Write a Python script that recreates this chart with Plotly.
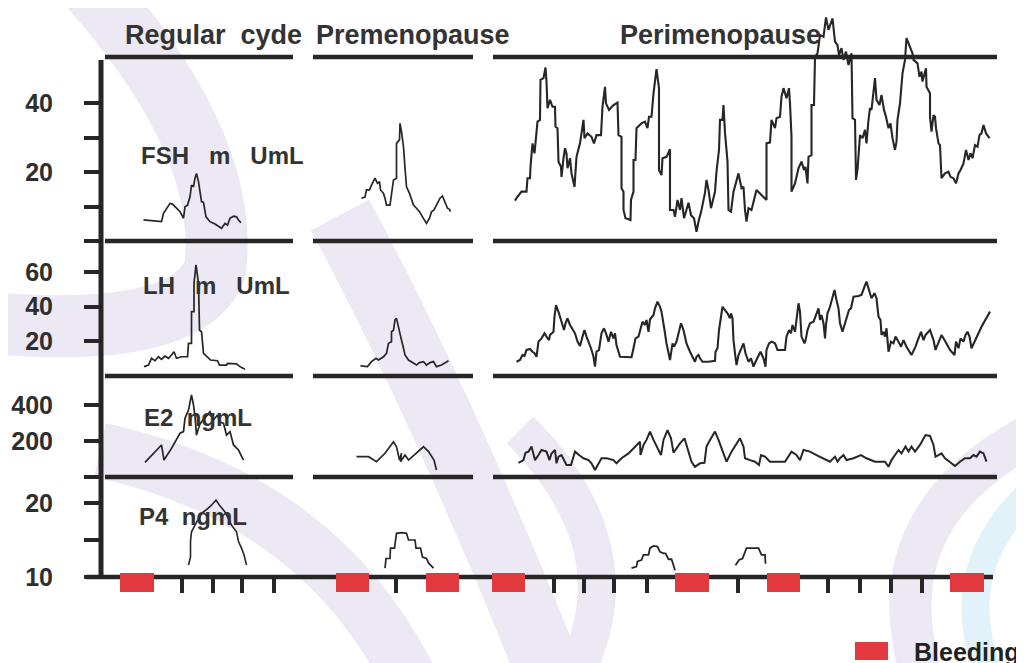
import plotly.graph_objects as go

# ---------------- data (x = day index, y = hormone level) ----------------
# FSH (mU/mL)
fsh_reg_day = [8.5, 12.1, 12.5, 13.0, 13.8, 14.3, 15.1, 15.8, 16.5, 16.8, 17.3, 17.8, 18.1, 18.5, 18.8, 19.1,
               19.5, 19.8, 20.1, 20.5, 21.0, 21.8, 22.8, 24.1, 24.8, 25.3, 25.8, 26.5, 27.1, 27.5, 28.0]
fsh_reg = [6.1, 5.6, 8.0, 9.0, 10.9, 10.7, 9.5, 8.5, 6.6, 9.9, 10.4, 12.8, 16.2, 15.7, 18.2, 19.6,
           17.2, 14.8, 11.4, 11.2, 7.0, 5.6, 4.9, 3.7, 5.1, 4.6, 6.6, 7.2, 7.0, 6.1, 5.3]
fsh_pre_day = [52.1, 52.8, 53.1, 53.7, 54.1, 54.8, 55.3, 55.7, 55.9, 56.5, 56.8, 57.1, 57.8, 58.5, 59.1, 59.1,
               59.7, 59.8, 60.1, 60.5, 60.8, 61.1, 61.7, 62.1, 62.5, 63.1, 63.7, 64.3, 65.1, 65.7, 66.1,
               66.6, 67.1, 67.8, 68.3, 68.8, 69.3, 69.7, 69.9]
fsh_pre = [12.4, 12.7, 14.8, 14.8, 16.2, 18.2, 16.7, 17.2, 14.8, 13.8, 12.4, 10.4, 10.4, 17.7, 18.2, 28.3,
           29.3, 34.1, 31.7, 27.3, 21.1, 15.7, 13.8, 11.9, 10.4, 9.5, 8.5, 7.0, 5.1, 6.6, 8.5,
           9.0, 10.4, 12.4, 13.0, 11.4, 9.5, 9.2, 8.5]
fsh_peri_day = [82.8, 83.1, 84.1, 85.1, 85.3, 85.8, 85.9, 86.3, 86.7, 87.3, 87.8, 87.9, 88.5, 88.9, 89.1, 89.3,
                89.8, 90.3, 90.8, 90.9, 91.3, 91.5, 92.0, 92.1, 92.5, 92.8, 93.1, 93.3, 93.8, 94.1, 94.7,
                94.9, 95.1, 95.8, 96.1, 96.5, 96.7, 97.3, 98.1, 98.6, 99.1, 100.0, 100.3, 100.8, 101.0,
                101.6, 102.5, 103.3, 103.5, 104.1, 104.1, 104.5, 104.5, 104.9, 105.9, 106.0, 106.5, 106.5,
                106.9, 107.1, 108.1, 108.8, 109.3, 109.6, 110.1, 110.5, 111.1, 111.6, 111.6, 112.1, 112.3,
                113.1, 113.8, 113.8, 114.5, 114.8, 115.3, 115.8, 116.1, 116.6, 117.5, 118.0, 118.6, 119.1,
                119.5, 120.1, 120.8, 121.1, 121.5, 122.0, 122.8, 123.1, 123.6, 123.8, 124.3, 124.5, 124.8,
                125.3, 125.5, 126.0, 126.5, 126.9, 127.5, 128.1, 128.5, 128.8, 129.1, 129.5, 130.1, 131.1,
                132.1, 133.1, 133.1, 133.8, 134.1, 134.8, 135.1, 135.8, 136.1, 136.5, 137.1, 137.6, 137.8,
                138.1, 138.1, 138.8, 139.5, 140.1, 140.6, 140.9, 141.3, 141.5, 142.1, 142.1, 142.6, 142.8,
                143.3, 143.5, 143.8, 144.5, 145.0, 145.5, 145.9, 146.3, 146.8, 147.3, 147.6, 148.1, 148.5,
                149.0, 149.5, 150.1, 150.3, 150.8, 151.0, 151.3, 151.8, 152.3, 152.8, 153.1, 153.5, 153.8,
                154.1, 154.5, 154.8, 155.1, 155.7, 156.1, 156.6, 157.0, 157.5, 157.9, 158.3, 158.8, 159.1,
                159.3, 159.8, 160.3, 160.8, 161.1, 161.8, 162.3, 162.5, 163.3, 163.7, 164.1, 164.3, 165.0,
                165.1, 165.8, 165.8, 166.1, 166.5, 166.8, 167.0, 167.5, 167.8, 167.9, 168.1, 168.8, 169.5,
                169.9, 170.5, 171.0, 171.5, 171.9, 172.5, 173.0, 173.5, 173.9, 174.3, 174.8, 175.3, 175.7,
                176.1, 176.5, 177.0, 177.7]
fsh_peri = [11.7, 12.4, 14.3, 14.3, 18.2, 18.2, 21.5, 28.3, 25.4, 34.6, 35.1, 46.7, 47.2, 50.3, 46.2, 38.5,
            40.9, 38.9, 38.9, 33.1, 32.7, 23.0, 21.5, 18.6, 24.0, 26.9, 25.4, 21.1, 24.0, 19.6, 15.7,
            19.6, 24.4, 28.3, 30.7, 35.1, 29.8, 31.2, 30.2, 28.3, 30.7, 30.7, 38.9, 44.7, 39.9,
            38.0, 39.4, 40.1, 30.7, 30.2, 15.3, 14.3, 9.0, 6.6, 6.1, 11.9, 14.3, 23.5,
            23.5, 32.7, 34.1, 34.6, 32.7, 36.0, 36.0, 42.8, 49.8, 44.3, 20.6, 19.1, 24.0,
            24.4, 26.6, 9.0, 9.0, 7.0, 11.9, 9.0, 12.4, 6.6, 11.1, 7.5, 6.6, 2.7,
            5.6, 9.0, 14.0, 17.7, 14.8, 9.5, 14.3, 20.1, 26.4, 35.1, 35.1, 39.4, 31.4,
            23.0, 9.0, 8.5, 14.3, 16.2, 19.6, 15.3, 15.7, 9.0, 5.6, 9.5, 9.0, 14.8,
            13.3, 11.9, 28.3, 28.6, 35.1, 32.7, 35.6, 36.0, 41.8, 44.3, 41.4, 44.3, 39.9,
            30.2, 14.3, 16.7, 21.1, 23.0, 20.6, 21.5, 16.7, 24.4, 24.9, 39.4, 39.4, 53.4,
            54.4, 57.3, 59.7, 59.2, 64.8, 61.2, 63.1, 64.5, 57.8, 56.8, 53.9, 55.9, 52.5,
            54.9, 51.0, 54.4, 35.6, 35.1, 17.7, 20.6, 30.7, 29.8, 32.2, 28.3, 35.1, 38.5,
            38.0, 42.8, 47.2, 40.9, 39.4, 42.3, 38.0, 36.0, 32.7, 34.1, 29.8, 26.4, 28.8,
            35.1, 39.9, 48.6, 52.5, 58.8, 55.9, 54.4, 52.5, 51.5, 47.6, 49.1, 46.2, 50.1,
            44.7, 42.8, 36.0, 31.7, 36.5, 36.0, 32.7, 28.3, 27.8, 21.5, 18.2, 19.6, 20.1,
            18.6, 18.2, 16.7, 19.6, 20.6, 22.5, 26.4, 23.5, 25.4, 24.0, 27.8, 27.3, 30.7,
            31.2, 33.6, 31.2, 29.8]

# LH (mU/mL)
lh_reg_day = [8.6, 9.5, 10.1, 10.8, 11.5, 12.1, 12.8, 13.5, 14.1, 14.6, 15.1, 16.1, 17.3, 17.5, 18.1, 18.1,
              18.6, 18.6, 19.0, 19.5, 19.7, 20.1, 20.5, 21.3, 21.9, 23.3, 23.7, 25.1, 25.3, 27.1, 27.8, 28.8]
lh_reg = [5.4, 6.3, 10.2, 8.8, 11.1, 9.6, 11.5, 10.2, 12.1, 14.0, 10.2, 11.1, 11.1, 18.8, 18.8, 37.1,
          37.1, 53.4, 64.0, 53.4, 26.5, 25.5, 13.1, 11.1, 9.2, 8.8, 6.3, 6.3, 7.3, 7.0, 5.4, 3.9]
lh_pre_day = [51.9, 53.3, 54.1, 55.0, 55.5, 56.5, 57.1, 57.5, 58.1, 58.1, 58.5, 58.8, 59.1, 59.3, 59.7, 60.1,
              60.5, 60.8, 61.5, 62.5, 63.1, 63.7, 64.5, 65.1, 65.8, 66.5, 67.1, 68.1, 69.0, 69.5]
lh_pre = [5.8, 5.4, 8.3, 10.2, 9.2, 11.1, 13.1, 18.8, 19.8, 25.5, 26.5, 32.3, 33.2, 30.4, 24.6, 20.7,
          16.0, 12.1, 9.2, 7.3, 6.3, 7.7, 8.3, 6.3, 7.7, 8.3, 5.4, 6.3, 7.7, 8.8]
lh_peri_day = [83.1, 83.8, 84.3, 84.7, 85.1, 85.8, 86.3, 86.7, 87.1, 87.5, 88.1, 88.7, 89.1, 89.6, 89.8, 90.5,
               90.7, 91.0, 91.6, 92.1, 92.6, 92.9, 93.3, 93.8, 94.5, 94.8, 95.3, 95.8, 96.3, 96.7, 97.1,
               97.5, 98.0, 98.5, 98.8, 99.1, 99.6, 100.1, 100.6, 101.0, 101.5, 102.0, 102.5, 102.8, 103.1,
               103.8, 105.1, 106.1, 106.5, 106.9, 107.5, 107.9, 108.3, 108.8, 109.1, 109.5, 109.8, 110.5,
               110.8, 111.3, 111.8, 112.1, 112.3, 112.7, 113.1, 113.5, 113.8, 114.3, 114.6, 115.1, 115.6,
               116.0, 116.5, 116.8, 117.1, 117.8, 118.5, 118.8, 119.1, 119.5, 119.8, 120.3, 121.5, 122.8,
               122.9, 123.3, 123.6, 124.0, 124.3, 124.8, 125.3, 125.8, 126.0, 126.3, 126.5, 126.8, 127.1,
               127.5, 128.0, 128.5, 128.9, 129.5, 130.0, 130.5, 130.9, 131.5, 131.9, 132.5, 132.9, 133.1,
               133.6, 134.1, 134.8, 135.3, 136.8, 137.1, 137.6, 138.0, 138.3, 138.8, 139.1, 139.5, 139.8,
               140.1, 140.7, 141.0, 141.3, 141.8, 142.5, 142.9, 143.5, 143.8, 144.1, 144.5, 144.8, 145.0,
               145.3, 145.8, 146.3, 146.7, 147.1, 147.5, 147.8, 148.3, 148.7, 149.1, 149.6, 150.0, 150.5,
               151.5, 152.1, 152.7, 153.1, 153.6, 154.1, 154.7, 155.1, 155.5, 155.9, 156.1, 156.5, 156.8,
               157.1, 157.5, 158.0, 158.5, 158.9, 159.5, 160.0, 160.5, 161.1, 162.1, 162.9, 163.5, 164.0,
               164.5, 164.9, 165.8, 166.5, 166.9, 167.6, 168.1, 168.9, 169.8, 170.7, 171.0, 171.5, 171.9,
               172.5, 172.9, 173.3, 173.7, 174.1, 174.8, 176.1, 177.8]
lh_peri = [8.2, 9.2, 12.1, 11.5, 15.0, 15.6, 14.0, 13.1, 11.1, 19.8, 21.7, 24.6, 22.7, 20.7, 23.6, 25.5,
           34.2, 40.9, 36.1, 31.3, 26.5, 30.4, 33.2, 29.4, 26.5, 24.6, 19.8, 17.3, 22.7, 26.5, 22.7,
           19.8, 16.0, 11.1, 5.4, 14.0, 15.0, 24.6, 27.5, 24.6, 19.8, 25.5, 21.7, 24.6, 17.9,
           11.1, 10.8, 10.8, 16.0, 21.7, 22.7, 26.5, 31.3, 29.4, 32.3, 25.5, 32.7, 35.2,
           39.0, 42.8, 39.9, 37.1, 34.2, 26.5, 18.8, 12.1, 9.2, 18.8, 16.9, 19.8, 25.5,
           30.4, 26.5, 22.7, 18.8, 14.0, 10.2, 8.2, 11.1, 12.1, 10.2, 8.2, 8.2, 8.8,
           14.0, 16.0, 26.5, 34.2, 39.9, 38.0, 36.1, 33.2, 36.1, 33.2, 20.7, 13.1, 6.3,
           12.1, 16.0, 18.8, 13.1, 8.2, 10.2, 5.4, 8.2, 12.1, 14.0, 10.2, 5.4, 15.0,
           18.8, 19.8, 18.8, 15.0, 15.0, 22.7, 26.5, 24.6, 29.4, 25.5, 31.3, 41.9, 37.1,
           22.7, 18.8, 21.7, 26.5, 30.4, 31.3, 34.2, 39.0, 32.3, 35.2, 30.4, 21.7, 29.4,
           36.1, 39.9, 44.8, 49.6, 43.8, 39.0, 30.4, 25.5, 29.4, 33.2, 38.0, 39.0, 45.7,
           46.1, 46.7, 51.5, 54.4, 49.6, 44.8, 47.7, 44.8, 34.2, 32.3, 23.6, 25.5, 22.7,
           27.5, 14.0, 19.8, 18.8, 22.7, 19.8, 16.9, 20.7, 16.9, 12.1, 16.9, 21.7, 25.5,
           20.7, 23.6, 26.5, 20.7, 15.0, 19.8, 23.6, 19.8, 15.0, 12.1, 19.8, 16.0, 21.7,
           19.8, 23.6, 25.5, 22.7, 16.0, 20.7, 28.4, 37.1]

# E2 (pg/mL)
e2_reg_day = [8.8, 12.1, 12.6, 14.1, 15.8, 16.5, 16.8, 17.5, 18.1, 18.5, 18.8, 19.1, 19.7, 20.1, 21.0, 21.8,
              22.5, 23.3, 23.7, 24.5, 25.1, 25.8, 26.5, 27.5, 28.5]
e2_reg = [81, 178, 94, 159, 243, 252, 326, 372, 456, 400, 335, 233, 289, 307, 335, 363,
          317, 344, 307, 298, 233, 252, 178, 150, 94]
e2_pre_day = [51.1, 53.5, 55.1, 56.8, 58.5, 59.1, 59.7, 60.1, 59.9, 60.8, 61.5, 63.0, 64.5, 65.5, 66.1, 66.6, 67.1]
e2_pre = [113, 113, 85, 132, 196, 168, 94, 132, 85, 122, 94, 132, 168, 141, 113, 94, 39]
e2_peri_day = [83.5, 84.5, 84.9, 85.5, 86.1, 86.8, 87.5, 88.1, 89.1, 89.7, 90.1, 90.8, 91.1, 91.5, 92.1, 93.1,
               94.0, 94.8, 95.6, 96.5, 97.5, 98.1, 98.8, 99.5, 100.1, 101.1, 102.5, 103.1, 104.1, 105.5,
               106.8, 107.8, 107.9, 108.5, 109.1, 109.8, 110.5, 111.1, 112.0, 112.5, 113.3, 114.0, 114.5,
               115.1, 115.8, 116.7, 117.1, 117.5, 118.1, 118.8, 119.8, 120.7, 121.1, 121.8, 122.8, 123.5,
               124.1, 125.1, 126.1, 126.9, 127.8, 128.5, 128.8, 129.8, 130.8, 131.6, 132.0, 132.8, 133.8,
               136.8, 138.1, 139.1, 139.8, 140.5, 141.8, 143.1, 144.5, 145.8, 146.8, 147.3, 147.8, 148.5,
               149.1, 150.5, 152.0, 153.1, 154.8, 156.8, 157.5, 158.1, 158.8, 159.5, 160.1, 160.9, 161.5,
               162.1, 162.8, 163.8, 164.9, 165.8, 166.5, 166.9, 167.5, 168.1, 168.8, 169.8, 170.8, 171.8,
               172.8, 173.8, 174.5, 175.1, 175.8, 176.5, 177.1]
e2_peri = [79, 94, 135, 141, 169, 94, 122, 150, 141, 94, 131, 150, 76, 113, 122, 67,
           67, 141, 122, 104, 94, 76, 39, 76, 104, 104, 94, 76, 104, 131,
           169, 196, 122, 178, 206, 252, 206, 169, 122, 206, 261, 215, 135,
           159, 187, 215, 178, 141, 85, 57, 76, 79, 169, 206, 252, 206,
           159, 85, 141, 178, 215, 169, 104, 94, 85, 67, 122, 113, 85,
           85, 141, 122, 94, 150, 141, 122, 104, 85, 113, 85, 104, 122,
           94, 104, 122, 104, 85, 85, 57, 94, 122, 150, 131, 169, 141,
           169, 141, 178, 233, 228, 178, 113, 122, 131, 104, 85, 61, 85,
           104, 104, 122, 113, 141, 131, 85]

# P4 (ng/mL)
p4_reg_day = [17.5, 17.9, 17.9, 18.1, 18.8, 19.5, 20.1, 21.1, 22.1, 23.0, 23.7, 24.8, 25.5, 26.1, 27.1, 27.5,
              28.1, 28.6, 29.1]
p4_reg = [11.6, 12.7, 14.8, 16.1, 17.0, 17.9, 18.6, 19.1, 19.7, 20.4, 19.7, 18.8, 17.7, 17.0, 16.1, 14.8,
          13.9, 13.0, 11.6]
p4_pre_day = [56.8, 57.0, 57.8, 57.9, 58.7, 59.1, 60.1, 61.1, 61.5, 62.8, 63.0, 63.9, 64.3, 65.1, 65.5, 66.5]
p4_pre = [11.2, 12.5, 12.5, 13.9, 13.9, 15.9, 16.0, 15.9, 15.0, 15.0, 13.9, 13.9, 12.7, 12.5, 11.9, 11.2]
p4_peri1_day = [106.1, 107.1, 107.3, 108.1, 108.5, 109.5, 109.8, 110.5, 111.3, 111.8, 112.5, 112.9, 113.5,
                114.1, 114.5, 114.8]
p4_peri1 = [11.2, 11.4, 12.1, 12.3, 13.0, 13.0, 13.9, 14.2, 14.1, 13.4, 13.2, 13.2, 12.4, 12.4, 11.6, 10.9]
p4_peri2_day = [126.9, 127.6, 128.3, 128.8, 129.1, 131.5, 131.8, 132.1, 132.8, 132.9]
p4_peri2 = [11.6, 12.3, 12.5, 13.4, 13.9, 13.9, 13.4, 13.0, 13.0, 11.8]

# bleeding episodes (day of mid-point) and sampling ticks on the time axis
bleed_mid = [7.2, 50.3, 68.3, 81.45, 118.2, 136.5, 173.2]
bleed_len = 6.7
time_ticks = [16.2, 22.4, 28.2, 34.6, 59.0, 90.6, 96.6, 102.6, 109.2, 127.4, 145.4, 151.8, 158.0, 164.2]

phase_labels = ["Regular\u00a0\u00a0cyde", "Premenopause", "Perimenopause"]
panel_labels = ["FSH\u00a0\u00a0\u00a0m\u00a0\u00a0\u00a0UmL", "LH\u00a0\u00a0\u00a0m\u00a0\u00a0\u00a0UmL",
                "E2\u00a0\u00a0ngmL", "P4\u00a0\u00a0ngmL"]

# ---------------- figure ----------------
# the page body adds an 8px offset; geometry below is given in on-screen pixels
OFF = 8
W, H = 1024, 663
SL, SR, ST, SB = 101, 1000, 10, 600          # on-screen plot-area box
L, T = SL - OFF, ST - OFF
R, B = W - (SR - OFF), H - (SB - OFF)
PW, PH = SR - SL, SB - ST


def fx(px):
    return (px - SL) / PW


def fy(py):
    return (SB - py) / PH


ink = "#262626"
rule = "#262626"
fig = go.Figure()


def add_line(x, y, axis, w):
    fig.add_trace(go.Scatter(x=x, y=y, mode="lines", yaxis=axis, line=dict(color=ink, width=w),
                             showlegend=False, hoverinfo="skip"))


add_line(fsh_reg_day, fsh_reg, "y", 1.7)
add_line(fsh_pre_day, fsh_pre, "y", 1.7)
add_line(fsh_peri_day, fsh_peri, "y", 2.1)
add_line(lh_reg_day, lh_reg, "y2", 1.7)
add_line(lh_pre_day, lh_pre, "y2", 1.7)
add_line(lh_peri_day, lh_peri, "y2", 2.1)
add_line(e2_reg_day, e2_reg, "y3", 1.7)
add_line(e2_pre_day, e2_pre, "y3", 1.7)
add_line(e2_peri_day, e2_peri, "y3", 2.0)
add_line(p4_reg_day, p4_reg, "y4", 1.6)
add_line(p4_pre_day, p4_pre, "y4", 1.7)
add_line(p4_peri1_day, p4_peri1, "y4", 1.8)
add_line(p4_peri2_day, p4_peri2, "y4", 1.8)

fig.add_trace(go.Bar(x=bleed_mid, y=[0.7] * len(bleed_mid), base=0.3, width=bleed_len, yaxis="y5",
                     marker=dict(color="#e2393e", line=dict(width=0)), showlegend=False, hoverinfo="skip"))

# panel geometry (on-screen pixel rows of the separating rules)
row_top, row_fsh, row_lh, row_e2, row_p4 = 57, 241, 376, 477, 577
tickfont = dict(family="Liberation Sans, Arial, sans-serif", size=25, color="#2e2e2e", weight="bold")
yax_common = dict(showgrid=False, zeroline=False, showline=False, ticks="outside", ticklen=16, tickwidth=4,
                  tickcolor=rule, tickfont=tickfont, anchor="x", ticklabelstandoff=26, fixedrange=True,
                  automargin=False)

fig.update_layout(
    width=W, height=H, margin=dict(l=L, r=R, t=T, b=B, autoexpand=False),
    paper_bgcolor="white", plot_bgcolor="rgba(0,0,0,0)",
    bargap=0, showlegend=False,
    xaxis=dict(range=[0, PW / 5.0], domain=[0, 1], anchor="y4", showgrid=False, zeroline=False,
               showline=False, ticks="outside", tickvals=time_ticks, ticklen=15, tickwidth=4,
               tickcolor=rule, showticklabels=False, automargin=False, fixedrange=True),
    yaxis=dict(domain=[fy(row_fsh), 1], range=[0, (row_fsh - ST) / 3.45],
               tickvals=[0, 10, 20, 30, 40], ticktext=["", "", "20", "", "40"], **yax_common),
    yaxis2=dict(domain=[fy(row_lh), fy(row_fsh)], range=[0, (row_lh - row_fsh) / 1.735],
                tickvals=[20, 40, 60], ticktext=["20", "40", "60"], **yax_common),
    yaxis3=dict(domain=[fy(row_e2), fy(row_lh)], range=[0, (row_e2 - row_lh) / 0.18],
                tickvals=[0, 200, 400], ticktext=["", "200", "400"], **yax_common),
    yaxis4=dict(domain=[fy(row_p4), fy(row_e2)], range=[10, 10 + (row_p4 - row_e2) / 7.4],
                tickvals=[10, 15, 20], ticktext=["10", "", "20"], **yax_common),
    yaxis5=dict(domain=[0, fy(573)], range=[0, 1], visible=False, fixedrange=True, anchor="x"),
)

shapes = []


# faint background watermark (decorative swooshes, on-screen px control points)
def swoosh(pts, width, color):
    d = "M {:.4f},{:.4f}".format(fx(pts[0][0]), fy(pts[0][1]))
    for i in range(1, len(pts) - 1, 2):
        d += " Q {:.4f},{:.4f} {:.4f},{:.4f}".format(fx(pts[i][0]), fy(pts[i][1]),
                                                     fx(pts[i + 1][0]), fy(pts[i + 1][1]))
    shapes.append(dict(type="path", xref="paper", yref="paper", path=d, layer="below",
                       line=dict(color=color, width=width)))


lav, cyan = "#ece8f4", "#e1f2f8"
swoosh([(75, -30), (232, 140), (215, 270), (185, 345), (-40, 320)], 62, lav)
swoosh([(340, 215), (450, 420), (560, 700)], 66, lav)
swoosh([(100, 450), (330, 500), (420, 700)], 55, lav)
swoosh([(520, 430), (650, 560), (560, 700)], 38, lav)
swoosh([(1040, 430), (860, 520), (930, 700)], 42, lav)
swoosh([(1060, 470), (930, 560), (1000, 700)], 28, cyan)

segs = [(105, 293), (313, 473), (493, 997)]
for row in (row_top, row_fsh, row_lh, row_e2):
    for a, b in segs:
        shapes.append(dict(type="line", xref="paper", yref="paper", x0=fx(a), x1=fx(b), y0=fy(row), y1=fy(row),
                           line=dict(color=rule, width=4.5), layer="below"))
shapes.append(dict(type="line", xref="paper", yref="paper", x0=fx(86), x1=fx(993), y0=fy(row_p4), y1=fy(row_p4),
                   line=dict(color=rule, width=4.5), layer="below"))
shapes.append(dict(type="line", xref="paper", yref="paper", x0=0, x1=0, y0=fy(row_p4), y1=fy(60),
                   line=dict(color=rule, width=5), layer="below"))
# legend swatch for bleeding
shapes.append(dict(type="rect", xref="paper", yref="paper", x0=fx(855), x1=fx(888), y0=fy(660), y1=fy(642),
                   fillcolor="#e2393e", line=dict(width=0)))
fig.update_layout(shapes=shapes)

ann = []
title_font = dict(family="Liberation Sans, Arial, sans-serif", size=27, color="#333333", weight="bold")
for txt, cx in zip(phase_labels, (213, 413, 720)):
    ann.append(dict(text=txt, xref="paper", yref="paper", x=fx(cx), y=fy(35), xanchor="center", yanchor="middle",
                    showarrow=False, font=title_font))
label_font = dict(family="Liberation Sans, Arial, sans-serif", size=24, color="#333333", weight="bold")
for txt, lx, ly in zip(panel_labels, (139, 141, 142, 137), (155, 285, 417, 516)):
    ann.append(dict(text=txt, xref="paper", yref="paper", x=fx(lx), y=fy(ly), xanchor="left", yanchor="middle",
                    showarrow=False, font=label_font))
ann.append(dict(text="Bleeding", xref="paper", yref="paper", x=fx(912), y=fy(652), xanchor="left",
                yanchor="middle", showarrow=False,
                font=dict(family="Liberation Sans, Arial, sans-serif", size=25, color="#222222", weight="bold")))
fig.update_layout(annotations=ann)

fig.write_html("out.html")
